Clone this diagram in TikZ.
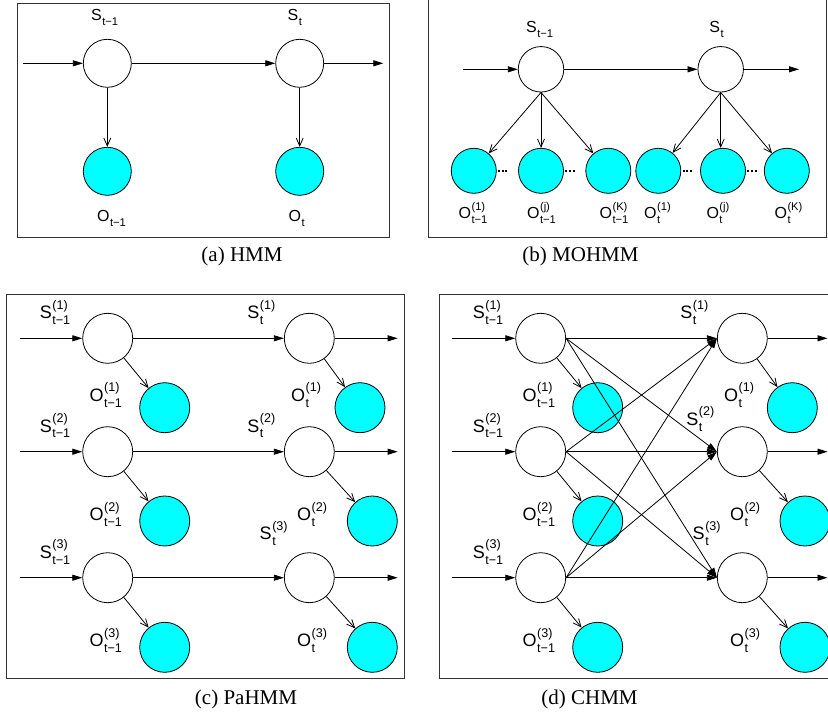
\documentclass[tikz,border=0pt]{standalone}
\usepackage{amsmath}
\usepackage{graphicx}
\usepackage{fontspec}
\setmainfont{Liberation Serif}
\setsansfont{Liberation Sans}
\usetikzlibrary{arrows.meta,calc}
\definecolor{obscyan}{RGB}{0,255,255}
\newsavebox\hsubbox
\newsavebox\hsupbox
% \hl{main}{sub}{sup}
\newcommand{\hl}[3]{\mbox{#1\kern0.03em\sbox\hsubbox{\scalebox{0.7}{#2}}\sbox\hsupbox{\scalebox{0.7}{#3}}%
\ifdim\wd\hsubbox>\wd\hsupbox
\rlap{\raisebox{0.52em}{\usebox\hsupbox}}\raisebox{-0.33em}{\usebox\hsubbox}%
\else
\rlap{\raisebox{-0.33em}{\usebox\hsubbox}}\raisebox{0.52em}{\usebox\hsupbox}%
\fi}}
\begin{document}
\begin{tikzpicture}[x=1pt,y=-1pt,line width=0.8pt,
  hid/.style={circle,draw,fill=white,inner sep=0pt,minimum size=50pt},
  obs/.style={circle,draw,fill=obscyan,inner sep=0pt,minimum size=50pt},
  harr/.style={-{Triangle[length=10pt,width=6pt]}},
  oarr/.style={-{Straight Barb[length=8pt,width=7pt]}},
  lab/.style={inner sep=0pt,font=\sffamily\fontsize{18}{20}\selectfont},
  labsm/.style={inner sep=0pt,font=\sffamily\fontsize{16}{18}\selectfont},
  captext/.style={inner sep=0pt,font=\fontsize{21}{24}\selectfont},
  panelbox/.style={draw=black!80,line width=1pt},
  dotrow/.style={line width=2.2pt,dash pattern=on 2pt off 1.6pt}]
\useasboundingbox (0,0) rectangle (828,715);
\clip (0,0) rectangle (828,715);

% ---------------- (a) HMM ----------------
\draw[panelbox] (17.3,3.3) rectangle (389,237);
\node[hid,minimum size=48pt] (sa1) at (107.3,63.3) {};
\node[hid,minimum size=48pt] (sa2) at (299.7,63.3) {};
\node[obs,minimum size=48pt] (oa1) at (107.3,171.3) {};
\node[obs,minimum size=48pt] (oa2) at (299.7,171.3) {};
\coordinate (ina) at (23.3,63.3);
\coordinate (outa) at (383.3,63.3);
\node[labsm,anchor=base west] (lsa1) at (90.7,20.7) {\hl{S}{t−1}{}};
\node[labsm,anchor=base west] (lsa2) at (287.3,20.7) {\hl{S}{t}{}};
\node[labsm,anchor=base west] (loa1) at (96.7,221.7) {\hl{O}{t−1}{}};
\node[labsm,anchor=base west] (loa2) at (288.3,221.7) {\hl{O}{t}{}};
\draw[harr] (ina) -- (sa1);
\draw[harr] (sa1) -- (sa2);
\draw[harr] (sa2) -- (outa);
\draw[oarr] (sa1) -- (oa1);
\draw[oarr] (sa2) -- (oa2);
\node[captext] (capa) at (242,256) {(a) HMM};

% ---------------- (b) MOHMM ----------------
\draw[panelbox] (428.7,-2) rectangle (826.5,237);
\node[hid,minimum size=45.5pt] (sb1) at (541,69.3) {};
\node[hid,minimum size=45.5pt] (sb2) at (720.7,69.3) {};
\node[obs,minimum size=45pt] (ob1) at (473.8,170.8) {};
\node[obs,minimum size=45pt] (ob2) at (541,170.8) {};
\node[obs,minimum size=45pt] (ob3) at (608.3,170.8) {};
\node[obs,minimum size=45pt] (ob4) at (658.3,170.8) {};
\node[obs,minimum size=45pt] (ob5) at (723,170.8) {};
\node[obs,minimum size=45pt] (ob6) at (786.8,170.8) {};
\coordinate (inb) at (463,69.3);
\coordinate (outb) at (799,69.3);
\node[labsm,anchor=base west] (lsb1) at (525.7,32.3) {\hl{S}{t−1}{}};
\node[labsm,anchor=base west] (lsb2) at (709,32.3) {\hl{S}{t}{}};
\node[labsm] (lob1) at (473,213) {\hl{O}{t−1}{(1)}};
\node[labsm] (lob2) at (541.5,213) {\hl{O}{t−1}{(j)}};
\node[labsm] (lob3) at (614,213) {\hl{O}{t−1}{(K)}};
\node[labsm] (lob4) at (657.5,213) {\hl{O}{t}{(1)}};
\node[labsm] (lob5) at (718,213) {\hl{O}{t}{(j)}};
\node[labsm] (lob6) at (788.5,213) {\hl{O}{t}{(K)}};
\draw[harr] (inb) -- (sb1);
\draw[harr] (sb1) -- (sb2);
\draw[harr] (sb2) -- (outb);
\draw[oarr] (sb1.south) -- (ob1);
\draw[oarr] (sb1.south) -- (ob2);
\draw[oarr] (sb1.south) -- (ob3);
\draw[oarr] (sb2.south) -- (ob4);
\draw[oarr] (sb2.south) -- (sb2.south |- ob5.north);
\draw[oarr] (sb2.south) -- (ob6);
\draw[dotrow] ([xshift=1.5pt]ob1.east) -- ++(9.4,0);
\draw[dotrow] ([xshift=1.5pt]ob2.east) -- ++(9.4,0);
\draw[dotrow] ([xshift=1.5pt]ob4.east) -- ++(9.4,0);
\draw[dotrow] ([xshift=1.5pt]ob5.east) -- ++(9.4,0);
\node[captext] (capb) at (580.5,256) {(b) MOHMM};

% ---------------- (c) PaHMM ----------------
\draw[panelbox] (6.7,294.3) rectangle (404,678.7);
\node[hid] (sc11) at (107.7,338.3) {};
\node[hid] (sc12) at (309.3,338.3) {};
\node[hid] (sc21) at (107.7,451.7) {};
\node[hid] (sc22) at (309.3,451.7) {};
\node[hid] (sc31) at (107.7,577.7) {};
\node[hid] (sc32) at (309.3,577.7) {};
\node[obs] (oc11) at (164.7,407.7) {};
\node[obs] (oc12) at (360,407.7) {};
\node[obs] (oc21) at (164.7,521) {};
\node[obs] (oc22) at (372.3,521) {};
\node[obs] (oc31) at (164.7,647.3) {};
\node[obs] (oc32) at (372.3,647.3) {};
\coordinate (inc1) at (20,338.3);
\coordinate (inc2) at (20,451.7);
\coordinate (inc3) at (20,577.7);
\coordinate (outc1) at (397.7,338.3);
\coordinate (outc2) at (397.7,451.7);
\coordinate (outc3) at (397.7,577.7);
\node[lab] (lsc11) at (55,312.5) {\hl{S}{t−1}{(1)}};
\node[lab] (lsc12) at (261.3,312.5) {\hl{S}{t}{(1)}};
\node[lab] (loc11) at (105.8,395) {\hl{O}{t−1}{(1)}};
\node[lab] (loc12) at (306,395) {\hl{O}{t}{(1)}};
\node[lab] (lsc21) at (55,425.8) {\hl{S}{t−1}{(2)}};
\node[lab] (lsc22) at (261.3,425.8) {\hl{S}{t}{(2)}};
\node[lab] (loc21) at (105.8,514.7) {\hl{O}{t−1}{(2)}};
\node[lab] (loc22) at (312,514.7) {\hl{O}{t}{(2)}};
\node[lab] (lsc32) at (273.7,533.3) {\hl{S}{t}{(3)}};
\node[lab] (lsc31) at (55,552) {\hl{S}{t−1}{(3)}};
\node[lab] (loc31) at (105.8,640.5) {\hl{O}{t−1}{(3)}};
\node[lab] (loc32) at (312,640.5) {\hl{O}{t}{(3)}};
\foreach \r in {1,2,3}{
  \draw[harr] (inc\r) -- (sc\r1);
  \draw[harr] (sc\r1) -- (sc\r2);
  \draw[harr] (sc\r2) -- (outc\r);
  \draw[oarr] (sc\r1) -- (oc\r1);
  \draw[oarr] (sc\r2) -- (oc\r2);
}
\node[captext] (capc) at (246,699) {(c) PaHMM};

% ---------------- (d) CHMM ----------------
\draw[panelbox] (439.3,294.3) rectangle (840,678.7);
\node[hid] (sd11) at (540.7,338.3) {};
\node[hid] (sd12) at (742.3,338.3) {};
\node[hid] (sd21) at (540.7,451.7) {};
\node[hid] (sd22) at (742.3,451.7) {};
\node[hid] (sd31) at (540.7,577.7) {};
\node[hid] (sd32) at (742.3,577.7) {};
\node[obs] (od11) at (597.7,407.7) {};
\node[obs] (od12) at (792.3,407.7) {};
\node[obs] (od21) at (597.7,521) {};
\node[obs] (od22) at (805,521) {};
\node[obs] (od31) at (597.7,647.3) {};
\node[obs] (od32) at (805,647.3) {};
\coordinate (ind1) at (452.3,338.3);
\coordinate (ind2) at (452.3,451.7);
\coordinate (ind3) at (452.3,577.7);
\coordinate (outd1) at (827.5,338.3);
\coordinate (outd2) at (827.5,451.7);
\coordinate (outd3) at (827.5,577.7);
\node[lab] (lsd11) at (488,312.5) {\hl{S}{t−1}{(1)}};
\node[lab] (lsd12) at (694.3,312.5) {\hl{S}{t}{(1)}};
\node[lab] (lod11) at (538.8,395) {\hl{O}{t−1}{(1)}};
\node[lab] (lod12) at (739,395) {\hl{O}{t}{(1)}};
\node[lab] (lsd21) at (488,425.8) {\hl{S}{t−1}{(2)}};
\node[lab] (lsd22) at (700.3,419) {\hl{S}{t}{(2)}};
\node[lab] (lod21) at (538.8,514.7) {\hl{O}{t−1}{(2)}};
\node[lab] (lod22) at (745,514.7) {\hl{O}{t}{(2)}};
\node[lab] (lsd32) at (706.7,533.3) {\hl{S}{t}{(3)}};
\node[lab] (lsd31) at (488,552) {\hl{S}{t−1}{(3)}};
\node[lab] (lod31) at (538.8,640.5) {\hl{O}{t−1}{(3)}};
\node[lab] (lod32) at (745,640.5) {\hl{O}{t}{(3)}};
\foreach \r in {1,2,3}{
  \draw[harr] (ind\r) -- (sd\r1);
  \draw[harr] (sd\r2) -- (outd\r);
  \draw[oarr] (sd\r1) -- (od\r1);
  \draw[oarr] (sd\r2) -- (od\r2);
  \foreach \q in {1,2,3}{
    \draw[harr] (sd\r1.east) -- (sd\q2.west);
  }
}
\node[captext] (capd) at (589.5,699) {(d) CHMM};
\end{tikzpicture}
\end{document}
